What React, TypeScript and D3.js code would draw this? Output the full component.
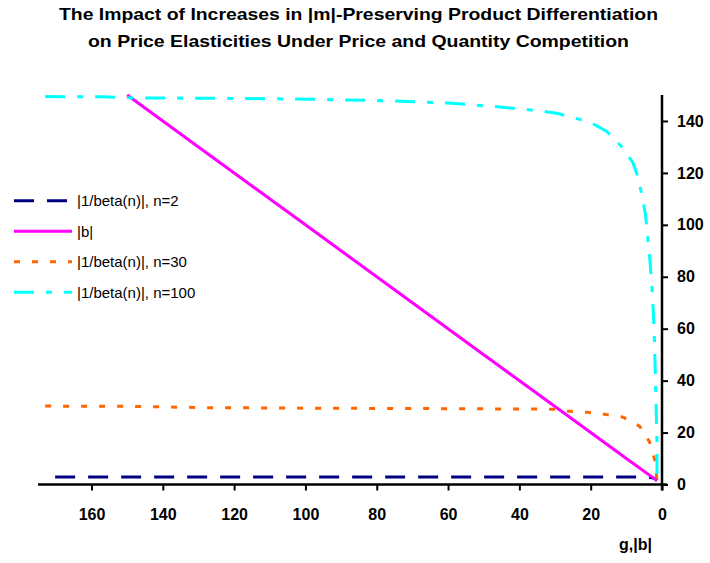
import React, { useEffect, useRef } from "react";
import * as d3 from "d3";

// values: [g or |b|, elasticity]
const beta2 = [
  [173, 2.9], [140, 2.9], [100, 2.9], [60, 2.9], [20, 2.9], [6, 2.9],
  [3, 2.7], [2, 2.3], [1.4, 1.5],
];
const bAbs = [
  [150, 150], [125, 125], [100, 100], [75, 75], [50, 50], [25, 25],
  [10, 10], [1.4, 1.5],
];
const beta30 = [
  [173, 30.2], [150, 30.1], [128, 29.6], [100, 29.4], [80, 29.3], [60, 29.2],
  [45, 29.1], [30.6, 29], [25.9, 28.2], [20.8, 27.8], [15.8, 27], [10.9, 25.9],
  [6.3, 22.5], [3.5, 16.4], [2, 9.4], [1.4, 1.5],
];
const beta100 = [
  [173, 149.4], [157, 149.3], [150, 148.9], [121, 148.7], [100, 148.4],
  [80, 147.9], [60, 146.9], [45.5, 145.4], [34.3, 143.9], [29.2, 142.9],
  [25, 141.3], [20.3, 139.6], [15.6, 136.1], [11, 129.7], [8.2, 124],
  [6.8, 118.8], [5.8, 112.4], [4.7, 104.6], [4.2, 98.2], [3.4, 86.6],
  [2.7, 73.7], [2.2, 59.6], [1.9, 44.1], [1.6, 27.4], [1.4, 15.8], [1.4, 1.5],
];

const xTicks = [160, 140, 120, 100, 80, 60, 40, 20, 0];
const yTicks = [0, 20, 40, 60, 80, 100, 120, 140];

const titleLines = [
  "The Impact of Increases in |m|-Preserving Product Differentiation",
  "on Price Elasticities Under Price and Quantity Competition",
];

const seriesList = [
  { name: "|1/beta(n)|, n=2", data: beta2, color: "#000080", dash: "20,13", offset: 23 },
  { name: "|b|", data: bAbs, color: "#FF00FF", dash: null, offset: 0 },
  { name: "|1/beta(n)|, n=30", data: beta30, color: "#FF6600", dash: "6,12", offset: 0 },
  { name: "|1/beta(n)|, n=100", data: beta100, color: "#00FFFF", dash: "20,12,6,12", offset: 0 },
];

const App = () => {
  const ref = useRef<SVGSVGElement>(null);

  const width = 710,
    height = 563,
    left = 38,
    right = 662,
    top = 95,
    bottom = 484.5;

  useEffect(() => {
    const svg = d3.select(ref.current);
    svg.selectAll("*").remove();

    const x = d3.scaleLinear().domain([175, 0]).range([left, right]);
    const y = d3.scaleLinear().domain([0, 150]).range([bottom, top]);

    // title
    svg
      .selectAll("text.title")
      .data(titleLines)
      .enter()
      .append("text")
      .attr("class", "title")
      .attr("x", 358.5)
      .attr("y", (d, i) => 20 + i * 27)
      .attr("text-anchor", "middle")
      .attr("font-family", "'Liberation Sans', Arial, sans-serif")
      .attr("font-weight", "bold")
      .attr("font-size", 17)
      .attr("textLength", (d, i) => (i === 0 ? 599 : 541))
      .attr("lengthAdjust", "spacingAndGlyphs")
      .text(d => d);

    // series
    const line = d3
      .line<number[]>()
      .x(d => x(d[0]))
      .y(d => y(d[1]));

    seriesList.forEach(s => {
      svg
        .append("path")
        .attr("d", line(s.data))
        .attr("fill", "none")
        .attr("stroke", s.color)
        .attr("stroke-width", 3)
        .attr("stroke-dasharray", s.dash)
        .attr("stroke-dashoffset", s.offset);
    });

    // axes
    const xAxis = d3
      .axisBottom(x)
      .tickValues(xTicks)
      .tickSize(6)
      .tickSizeOuter(0)
      .tickPadding(18)
      .tickFormat(d3.format("d"));
    const gx = svg
      .append("g")
      .attr("transform", "translate(0," + bottom + ")")
      .call(xAxis);

    const yAxis = d3
      .axisRight(y)
      .tickValues(yTicks)
      .tickSize(6)
      .tickSizeOuter(0)
      .tickPadding(9)
      .tickFormat(d3.format("d"));
    const gy = svg
      .append("g")
      .attr("transform", "translate(" + right + ",0)")
      .call(yAxis);

    [gx, gy].forEach(g => {
      g.select(".domain").remove();
      g.selectAll("line").attr("stroke", "#000").attr("stroke-width", 2);
      g.selectAll("text")
        .attr("font-family", "'Liberation Sans', Arial, sans-serif")
        .attr("font-weight", "bold")
        .attr("font-size", 16)
        .attr("fill", "#000");
    });

    svg
      .append("line")
      .attr("x1", left)
      .attr("x2", right + 5)
      .attr("y1", bottom)
      .attr("y2", bottom)
      .attr("stroke", "#000")
      .attr("stroke-width", 2.5);
    svg
      .append("line")
      .attr("x1", right)
      .attr("x2", right)
      .attr("y1", top)
      .attr("y2", bottom + 6)
      .attr("stroke", "#000")
      .attr("stroke-width", 2.5);

    svg
      .append("text")
      .attr("x", 652)
      .attr("y", 550)
      .attr("text-anchor", "end")
      .attr("font-family", "'Liberation Sans', Arial, sans-serif")
      .attr("font-weight", "bold")
      .attr("font-size", 16)
      .text("g,|b|");

    // legend
    const legend = svg
      .selectAll("g.legend")
      .data(seriesList)
      .enter()
      .append("g")
      .attr("class", "legend")
      .attr("transform", (d, i) => "translate(0," + (200.7 + i * 30.5) + ")");
    legend
      .append("line")
      .attr("x1", 14)
      .attr("x2", 72)
      .attr("stroke", d => d.color)
      .attr("stroke-width", 3)
      .attr("stroke-dasharray", d => d.dash);
    legend
      .append("text")
      .attr("x", 77)
      .attr("y", 5.5)
      .attr("font-family", "'Liberation Sans', Arial, sans-serif")
      .attr("font-size", 15)
      .text(d => d.name);
  }, []);

  return (
    <svg
      ref={ref}
      width={width}
      height={height}
      style={{ position: "absolute", left: 0, top: 0, background: "#fff" }}
    />
  );
};

export default App;
